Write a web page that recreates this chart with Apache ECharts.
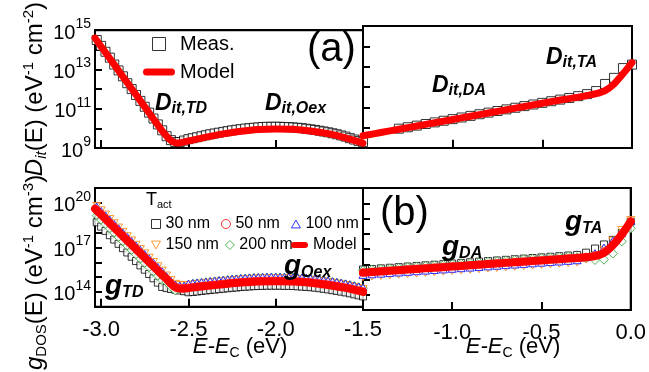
<!DOCTYPE html>
<html>
<head>
<meta charset="utf-8">
<script src="https://cdn.jsdelivr.net/npm/echarts@6/dist/echarts.min.js"></script>
<style>
  html, body { margin: 0; padding: 0; background: #fff; }
  #chart { width: 649px; height: 372px; }
</style>
</head>
<body>
<div id="chart"></div>
<script>
const FONT = 'Liberation Sans, Arial, sans-serif'

// energy axes (E - Ec, eV)
const eLeft = [-3.025, -3.0, -2.975, -2.95, -2.925, -2.9, -2.875, -2.85, -2.825, -2.8,
  -2.775, -2.75, -2.725, -2.7, -2.675, -2.65, -2.625, -2.6, -2.575, -2.55,
  -2.525, -2.5, -2.475, -2.45, -2.425, -2.4, -2.375, -2.35, -2.325, -2.3,
  -2.275, -2.25, -2.225, -2.2, -2.175, -2.15, -2.125, -2.1, -2.075, -2.05,
  -2.025, -2.0, -1.975, -1.95, -1.925, -1.9, -1.875, -1.85, -1.825, -1.8,
  -1.775, -1.75, -1.725, -1.7, -1.675, -1.65, -1.625, -1.6, -1.575, -1.55,
  -1.525, -1.5]
const eRight = [-1.5, -1.45, -1.4, -1.35, -1.3, -1.25, -1.2, -1.15, -1.1, -1.05,
  -1.0, -0.95, -0.9, -0.85, -0.8, -0.75, -0.7, -0.65, -0.6, -0.55,
  -0.5, -0.45, -0.4, -0.35, -0.3, -0.25, -0.2, -0.15, -0.1, -0.05, 0.0]
const eRightTop = [-1.3, -1.25, -1.2, -1.15, -1.1, -1.05, -1.0, -0.95, -0.9, -0.85,
  -0.8, -0.75, -0.7, -0.65, -0.6, -0.55, -0.5, -0.45, -0.4, -0.35,
  -0.3, -0.25, -0.2, -0.15, -0.1, -0.05, 0.0]
const eModelL = [-3.035, -3.0, -2.9, -2.8, -2.7, -2.65, -2.62, -2.6, -2.58, -2.56, -2.53,
  -2.5, -2.4, -2.3, -2.2, -2.1, -2.0, -1.9, -1.8, -1.7, -1.6, -1.5]
const eModelR = [-1.5, -1.4, -1.3, -1.2, -1.1, -1.0, -0.9, -0.8, -0.7, -0.6, -0.5,
  -0.4, -0.3, -0.25, -0.2, -0.15, -0.1, -0.05, 0.0]

// (a) log10 Dit (eV^-1 cm^-2)
const ditMeasL = [14.5, 14.2, 13.9, 13.6, 13.25, 12.95, 12.65, 12.3, 12.0, 11.7,
  11.4, 11.1, 10.8, 10.5, 10.2, 9.9, 9.6, 9.4, 9.3, 9.3,
  9.38, 9.45, 9.5, 9.55, 9.6, 9.65, 9.7, 9.74, 9.78, 9.82,
  9.86, 9.9, 9.93, 9.96, 9.99, 10.01, 10.03, 10.05, 10.07, 10.08,
  10.08, 10.08, 10.08, 10.07, 10.06, 10.05, 10.03, 10.01, 9.98, 9.95,
  9.92, 9.88, 9.84, 9.8, 9.75, 9.7, 9.64, 9.58, 9.5, 9.43,
  9.36, 9.3]
const ditMeasR = [9.95, 10.02, 10.1, 10.18, 10.26, 10.34, 10.42, 10.5, 10.58, 10.66,
  10.74, 10.82, 10.9, 10.98, 11.06, 11.14, 11.22, 11.3, 11.38, 11.46,
  11.55, 11.65, 11.8, 12.15, 12.45, 12.93, 13.1]
const ditModelL = [14.6, 14.17, 12.94, 11.71, 10.48, 9.87, 9.55, 9.38, 9.28, 9.25, 9.3,
  9.36, 9.55, 9.72, 9.85, 9.94, 9.97, 9.95, 9.87, 9.73, 9.52, 9.25]
const ditModelR = [9.6, 9.76, 9.92, 10.08, 10.24, 10.4, 10.56, 10.72, 10.88, 11.04, 11.2,
  11.36, 11.5, 11.58, 11.67, 11.82, 12.15, 12.65, 13.2]

// (b) log10 gDOS (eV^-1 cm^-3)
const g30L = [18.69, 18.40, 18.11, 17.82, 17.53, 17.24, 16.95, 16.66, 16.37, 16.08,
  15.79, 15.50, 15.21, 14.92, 14.63, 14.34, 14.26, 14.20, 14.15, 14.10,
  14.05, 13.98, 14.00, 14.03, 14.07, 14.10, 14.13, 14.16, 14.19, 14.22,
  14.25, 14.28, 14.30, 14.33, 14.35, 14.37, 14.39, 14.40, 14.41, 14.42,
  14.42, 14.42, 14.42, 14.41, 14.41, 14.40, 14.38, 14.36, 14.34, 14.32,
  14.29, 14.25, 14.21, 14.17, 14.12, 14.07, 14.02, 13.97, 13.91, 13.84,
  13.77, 13.70]
const g50L = [19.54, 19.25, 18.96, 18.67, 18.38, 18.09, 17.80, 17.51, 17.22, 16.93,
  16.64, 16.35, 16.06, 15.77, 15.48, 15.19, 14.91, 14.60, 14.35, 14.28,
  14.27, 14.31, 14.35, 14.38, 14.42, 14.45, 14.48, 14.51, 14.54, 14.57,
  14.60, 14.63, 14.65, 14.68, 14.70, 14.72, 14.74, 14.75, 14.76, 14.77,
  14.77, 14.77, 14.77, 14.76, 14.76, 14.75, 14.73, 14.71, 14.69, 14.67,
  14.64, 14.60, 14.56, 14.52, 14.47, 14.42, 14.37, 14.32, 14.26, 14.19,
  14.12, 14.05]
const g100L = [19.74, 19.45, 19.16, 18.87, 18.58, 18.29, 18.00, 17.71, 17.42, 17.13,
  16.84, 16.55, 16.26, 15.97, 15.68, 15.39, 15.06, 14.75, 14.50, 14.43,
  14.42, 14.56, 14.60, 14.63, 14.67, 14.70, 14.73, 14.76, 14.79, 14.82,
  14.85, 14.88, 14.90, 14.93, 14.95, 14.97, 14.99, 15.00, 15.01, 15.02,
  15.02, 15.02, 15.02, 15.01, 15.01, 15.00, 14.98, 14.96, 14.94, 14.92,
  14.89, 14.85, 14.81, 14.77, 14.72, 14.67, 14.62, 14.57, 14.51, 14.44,
  14.37, 14.30]
const g150L = [19.79, 19.50, 19.21, 18.92, 18.63, 18.34, 18.05, 17.76, 17.47, 17.18,
  16.89, 16.60, 16.31, 16.02, 15.73, 15.44, 15.11, 14.80, 14.55, 14.48,
  14.47, 14.46, 14.50, 14.53, 14.57, 14.60, 14.63, 14.66, 14.69, 14.72,
  14.75, 14.78, 14.80, 14.83, 14.85, 14.87, 14.89, 14.90, 14.91, 14.92,
  14.92, 14.92, 14.92, 14.91, 14.91, 14.90, 14.88, 14.86, 14.84, 14.82,
  14.79, 14.75, 14.71, 14.67, 14.62, 14.57, 14.52, 14.47, 14.41, 14.34,
  14.27, 14.20]
const g200L = [19.14, 18.85, 18.56, 18.27, 17.98, 17.69, 17.40, 17.11, 16.82, 16.53,
  16.24, 15.95, 15.66, 15.37, 15.08, 14.79, 14.66, 14.35, 14.10, 14.23,
  14.32, 14.46, 14.55, 14.58, 14.62, 14.65, 14.68, 14.71, 14.74, 14.77,
  14.80, 14.83, 14.85, 14.88, 14.90, 14.92, 14.94, 14.95, 14.96, 14.97,
  14.97, 14.97, 14.97, 14.96, 14.96, 14.95, 14.93, 14.91, 14.89, 14.87,
  14.84, 14.80, 14.76, 14.72, 14.67, 14.62, 14.57, 14.52, 14.46, 14.39,
  14.32, 14.25]
const g30R = [15.65, 15.69, 15.73, 15.77, 15.81, 15.85, 15.89, 15.93, 15.97, 16.01,
  16.05, 16.09, 16.13, 16.17, 16.21, 16.25, 16.29, 16.33, 16.37, 16.41,
  16.45, 16.49, 16.53, 16.57, 16.61, 16.76, 17.03, 17.30, 17.60, 18.05, 18.80]
const g50R = [15.48, 15.52, 15.56, 15.60, 15.64, 15.68, 15.72, 15.76, 15.80, 15.84,
  15.88, 15.92, 15.96, 16.00, 16.04, 16.08, 16.12, 16.16, 16.20, 16.24,
  16.28, 16.32, 16.36, 16.40, 16.44, 16.50, 16.60, 16.85, 17.30, 18.00, 18.82]
const g100R = [15.30, 15.34, 15.38, 15.42, 15.46, 15.50, 15.54, 15.58, 15.62, 15.66,
  15.70, 15.74, 15.78, 15.82, 15.86, 15.90, 15.94, 15.98, 16.02, 16.06,
  16.10, 16.14, 16.18, 16.22, 16.26, 16.46, 16.73, 17.10, 17.55, 18.10, 18.85]
const g150R = [15.15, 15.19, 15.23, 15.27, 15.31, 15.35, 15.39, 15.43, 15.47, 15.51,
  15.55, 15.59, 15.63, 15.67, 15.71, 15.75, 15.79, 15.83, 15.87, 15.91,
  15.95, 15.99, 16.03, 16.07, 16.11, 16.31, 16.53, 16.95, 17.55, 18.25, 18.90]
const g200R = [15.60, 15.64, 15.68, 15.72, 15.76, 15.80, 15.84, 15.88, 15.92, 15.96,
  16.00, 16.04, 16.08, 16.12, 16.16, 16.20, 16.24, 16.28, 16.32, 16.36,
  16.40, 16.44, 16.48, 16.52, 16.46, 16.41, 16.28, 16.30, 16.70, 17.50, 18.35]
const gModelL = [19.6, 19.2, 18.04, 16.88, 15.72, 15.14, 14.8, 14.55, 14.35, 14.24, 14.22,
  14.26, 14.4, 14.52, 14.63, 14.7, 14.72, 14.7, 14.62, 14.47, 14.27, 14.0]
const gModelR = [15.45, 15.53, 15.61, 15.69, 15.77, 15.85, 15.93, 16.01, 16.09, 16.17, 16.25,
  16.33, 16.41, 16.46, 16.53, 16.75, 17.25, 17.95, 18.8]

// tick labels
const xTicksL = [-3.0, -2.5, -2.0, -1.5]
const xTicksR = [-1.0, -0.5, 0.0]
const ditLabels = [9, 11, 13, 15]
const gLabels = [14, 17, 20]

const zip = (xs, ys) => xs.map((x, i) => [x, ys[i]])
const inList = (list, v) => list.some(t => Math.abs(t - v) < 1e-6)

// symbols
const SQ = 'path://M0,0H10V10H0Z'
const TRI_UP = 'path://M5,0L10,8.66L0,8.66Z'
const TRI_DN = 'path://M0,0L10,0L5,8.66Z'
const DIAM = 'path://M5,0L10,5L5,10L0,5Z'
const BAR_TOP = 'path://M3.5,0H28.5A3.5,3.5 0 0 1 28.5,7H3.5A3.5,3.5 0 0 1 3.5,0Z'
const BAR_BOT = 'path://M3,0H14A3,3 0 0 1 14,6H3A3,3 0 0 1 3,0Z'

const chart = echarts.init(document.getElementById('chart'))

const gridBase = { show: true, borderColor: '#000', borderWidth: 2, backgroundColor: 'transparent' }
const grids = [
  Object.assign({ left: 95, top: 26, width: 268, height: 122 }, gridBase),
  Object.assign({ left: 363, top: 26, width: 269, height: 122 }, gridBase),
  Object.assign({ left: 95, top: 188, width: 268, height: 122 }, gridBase),
  Object.assign({ left: 363, top: 188, width: 269, height: 122 }, gridBase)
]

const frameLine = { show: true, onZero: false, lineStyle: { color: '#000', width: 2 } }
const tickStyle = { color: '#000', width: 2 }
const noTick = { show: false, length: 0, lineStyle: { width: 0 } }

function xAxis(gridIndex, leftSide, showLabel) {
  const labels = leftSide ? xTicksL : xTicksR
  const ax = {
    gridIndex: gridIndex,
    type: 'value',
    position: 'bottom',
    min: leftSide ? -3.035 : -1.5,
    max: leftSide ? -1.5 : 0,
    axisLine: frameLine,
    splitLine: { show: false },
    axisTick: { show: true, inside: true, length: 8, lineStyle: tickStyle },
    axisLabel: {
      show: showLabel,
      showMinLabel: true, showMaxLabel: true,
      formatter: v => inList(labels, v) ? v.toFixed(1) : '',
      fontSize: 22, color: '#000', fontFamily: FONT, margin: 12
    }
  }
  if (leftSide) ax.splitNumber = 3
  else ax.interval = 0.5
  return ax
}
// plain frame lines on the top / right edges
function xTop(gridIndex, leftSide) {
  return {
    gridIndex: gridIndex, type: 'value', position: 'top',
    min: leftSide ? -3.035 : -1.5, max: leftSide ? -1.5 : 0,
    axisLine: frameLine, axisTick: noTick, axisLabel: { show: false }, splitLine: { show: false }
  }
}
function yRight(gridIndex, min, max) {
  return {
    gridIndex: gridIndex, type: 'value', position: 'right', min: min, max: max,
    axisLine: frameLine, axisTick: noTick, axisLabel: { show: false }, splitLine: { show: false }
  }
}

const supRich = {
  b: { fontSize: 20, lineHeight: 26, verticalAlign: 'bottom', color: '#000', fontFamily: FONT },
  s: { fontSize: 14, lineHeight: 14, verticalAlign: 'top', color: '#000', fontFamily: FONT }
}

const plain = (size, lh, extra) => Object.assign({ fontSize: size, lineHeight: lh, color: '#000', fontFamily: FONT }, extra || {})
const titleRich = {
  i: plain(24, 28, { fontStyle: 'italic' }),
  n: plain(24, 28),
  si: plain(15, 15, { fontStyle: 'italic', verticalAlign: 'bottom' }),
  sn: plain(15, 15, { verticalAlign: 'bottom' }),
  p: plain(15, 15, { verticalAlign: 'top' })
}

function yAxis(gridIndex, min, max, labels, title, shift) {
  const ax = {
    gridIndex: gridIndex,
    type: 'value',
    position: 'left',
    min: min, max: max, interval: 1,
    axisLine: frameLine,
    splitLine: { show: false },
    axisTick: { show: true, inside: true, length: 7, lineStyle: tickStyle },
    axisLabel: {
      show: !!labels,
      margin: 4,
      formatter: v => (labels && labels.indexOf(v) >= 0) ? '{b|10}{s|' + v + '}' : '',
      rich: supRich
    }
  }
  if (title) {
    ax.name = title
    ax.nameLocation = 'middle'
    ax.nameRotate = 90
    ax.nameGap = 44
    ax.nameTextStyle = { rich: titleRich, padding: [0, shift || 0, 0, 0] }
  }
  return ax
}

function measSeries(name, xi, xs, ys, symbol, size, color) {
  return {
    name: name, type: 'scatter', xAxisIndex: xi, yAxisIndex: xi,
    data: zip(xs, ys),
    symbol: symbol, symbolSize: size, symbolKeepAspect: true,
    itemStyle: { color: '#fff', borderColor: color, borderWidth: 1 },
    z: 2
  }
}

// short inward x ticks, placed through the axis scales
function tickMarks(ticks, yMin, len) {
  return {
    silent: true, symbol: ['none', 'none'], animation: false,
    label: { show: false },
    lineStyle: { color: '#000', width: 2, type: 'solid' },
    emphasis: { disabled: true },
    data: ticks.map(v => [{ coord: [v, yMin] }, { coord: [v, yMin + len] }])
  }
}

function modelSeries(xi, xs, ys, width, ticks, yMin, len) {
  return {
    name: 'Model', type: 'line', xAxisIndex: xi, yAxisIndex: xi,
    data: zip(xs, ys),
    symbol: 'none', smooth: 0.2,
    itemStyle: { color: '#ff0000' },
    lineStyle: { color: '#ff0000', width: width, cap: 'round', join: 'round' },
    markLine: tickMarks(ticks, yMin, len),
    z: 5
  }
}

const C30 = '#000000', C50 = '#ff0000', C100 = '#0000ff', C150 = '#ff8000', C200 = '#2ca02c'

const series = [
  measSeries('Meas.', 0, eLeft, ditMeasL, SQ, 9, '#000'),
  modelSeries(0, eModelL, ditModelL, 7, [-3.0, -2.5, -2.0], 9, 0.4),
  measSeries('Meas.', 1, eRightTop, ditMeasR, SQ, 9, '#000'),
  modelSeries(1, eModelR, ditModelR, 7, [-1.0, -0.5], 9, 0.4),

  measSeries('30 nm', 2, eLeft, g30L, SQ, 7, C30),
  measSeries('200 nm', 2, eLeft, g200L, DIAM, 9, C200),
  measSeries('150 nm', 2, eLeft, g150L, TRI_DN, 8, C150),
  measSeries('100 nm', 2, eLeft, g100L, TRI_UP, 8, C100),
  measSeries('50 nm', 2, eLeft, g50L, 'circle', 7, C50),
  modelSeries(2, eModelL, gModelL, 8, [-3.0, -2.5, -2.0], 13, 0.53),

  measSeries('30 nm', 3, eRight, g30R, SQ, 7, C30),
  measSeries('200 nm', 3, eRight, g200R, DIAM, 9, C200),
  measSeries('150 nm', 3, eRight, g150R, TRI_DN, 8, C150),
  measSeries('100 nm', 3, eRight, g100R, TRI_UP, 8, C100),
  measSeries('50 nm', 3, eRight, g50R, 'circle', 7, C50),
  modelSeries(3, eModelR, gModelR, 8, [-1.0, -0.5], 13, 0.53)
]

const legendText = { fontSize: 16, color: '#000', fontFamily: FONT }
const legends = [
  {
    data: [{ name: 'Meas.', icon: SQ }, { name: 'Model', icon: BAR_TOP }],
    orient: 'vertical', left: 138, top: 29, itemWidth: 32, itemHeight: 13, itemGap: 8,
    textStyle: { fontSize: 20, color: '#000', fontFamily: FONT },
    itemStyle: { borderWidth: 1 }, selectedMode: false
  },
  {
    data: [{ name: '30 nm', icon: SQ }, { name: '50 nm', icon: 'circle' }, { name: '100 nm', icon: TRI_UP }],
    orient: 'horizontal', left: 146, top: 211, itemWidth: 9, itemHeight: 9, itemGap: 11,
    textStyle: legendText, itemStyle: { borderWidth: 1 }, selectedMode: false
  },
  {
    data: [{ name: '150 nm', icon: TRI_DN }, { name: '200 nm', icon: DIAM }],
    orient: 'horizontal', left: 146, top: 232, itemWidth: 9, itemHeight: 9, itemGap: 6,
    textStyle: legendText, itemStyle: { borderWidth: 1 }, selectedMode: false
  },
  {
    data: [{ name: 'Model', icon: BAR_BOT }],
    orient: 'horizontal', left: 286, top: 232, itemWidth: 17, itemHeight: 9, itemGap: 4,
    textStyle: legendText, itemStyle: { borderWidth: 0 }, selectedMode: false
  }
]

// rich text styles for labels
const bi = (size, lh) => ({ fontSize: size, lineHeight: lh, fontStyle: 'italic', fontWeight: 'bold', color: '#000', fontFamily: FONT })
const annRich = {
  D: bi(23, 26),
  g: bi(28, 30),
  s: Object.assign(bi(16, 16), { verticalAlign: 'bottom' })
}
function ann(x, y, text) {
  return {
    type: 'text', x: x, y: y, z: 100,
    style: { text: text, rich: annRich, align: 'left', verticalAlign: 'middle', textAlign: 'left', textVerticalAlign: 'middle' }
  }
}
const xRich = {
  i: plain(22, 26, { fontStyle: 'italic' }),
  n: plain(22, 26),
  c: plain(14, 14, { verticalAlign: 'bottom' })
}
const bigRich = { a: plain(40, 44) }
function txt(x, y, text, rich, align) {
  return {
    type: 'text', x: x, y: y, z: 100,
    style: { text: text, rich: rich, align: align || 'center', verticalAlign: 'middle', textAlign: align || 'center', textVerticalAlign: 'middle' }
  }
}

const graphics = [
  txt(240, 347, '{i|E-E}{c|C}{n| (eV)}', xRich),
  txt(513, 347, '{i|E-E}{c|C}{n| (eV)}', xRich),
  txt(307, 50, '{a|(a)}', bigRich, 'left'),
  txt(380, 214, '{a|(b)}', bigRich, 'left'),
  txt(146, 200, '{t|T}{a|act}', { t: plain(18, 20), a: plain(11, 11, { verticalAlign: 'bottom' }) }, 'left'),
  ann(155, 104, '{D|D}{s|it,TD}'),
  ann(265, 104, '{D|D}{s|it,Oex}'),
  ann(432, 86, '{D|D}{s|it,DA}'),
  ann(546, 58, '{D|D}{s|it,TA}'),
  ann(105, 286, '{g|g}{s|TD}'),
  ann(284, 266, '{g|g}{s|Oex}'),
  ann(442, 247, '{g|g}{s|DA}'),
  ann(565, 222, '{g|g}{s|TA}')
]

chart.setOption({
  animation: false,
  backgroundColor: '#fff',
  textStyle: { fontFamily: FONT },
  grid: grids,
  xAxis: [xAxis(0, true, false), xAxis(1, false, false), xAxis(2, true, true), xAxis(3, false, true),
    xTop(0, true), xTop(1, false), xTop(2, true), xTop(3, false)],
  yAxis: [
    yAxis(0, 9, 15, ditLabels, '{i|D}{si|it}{n|(E) (eV}{p|-1}{n| cm}{p|-2}{n|)}', 0),
    yAxis(1, 9, 15, null),
    yAxis(2, 13, 21, gLabels, '{i|g}{sn|DOS}{n|(E) (eV}{p|-1}{n| cm}{p|-3}{n|)}', 50),
    yAxis(3, 13, 21, null),
    yRight(0, 9, 15), yRight(1, 9, 15), yRight(2, 13, 21), yRight(3, 13, 21)],
  legend: legends,
  series: series,
  graphic: graphics
})
</script>
</body>
</html>
